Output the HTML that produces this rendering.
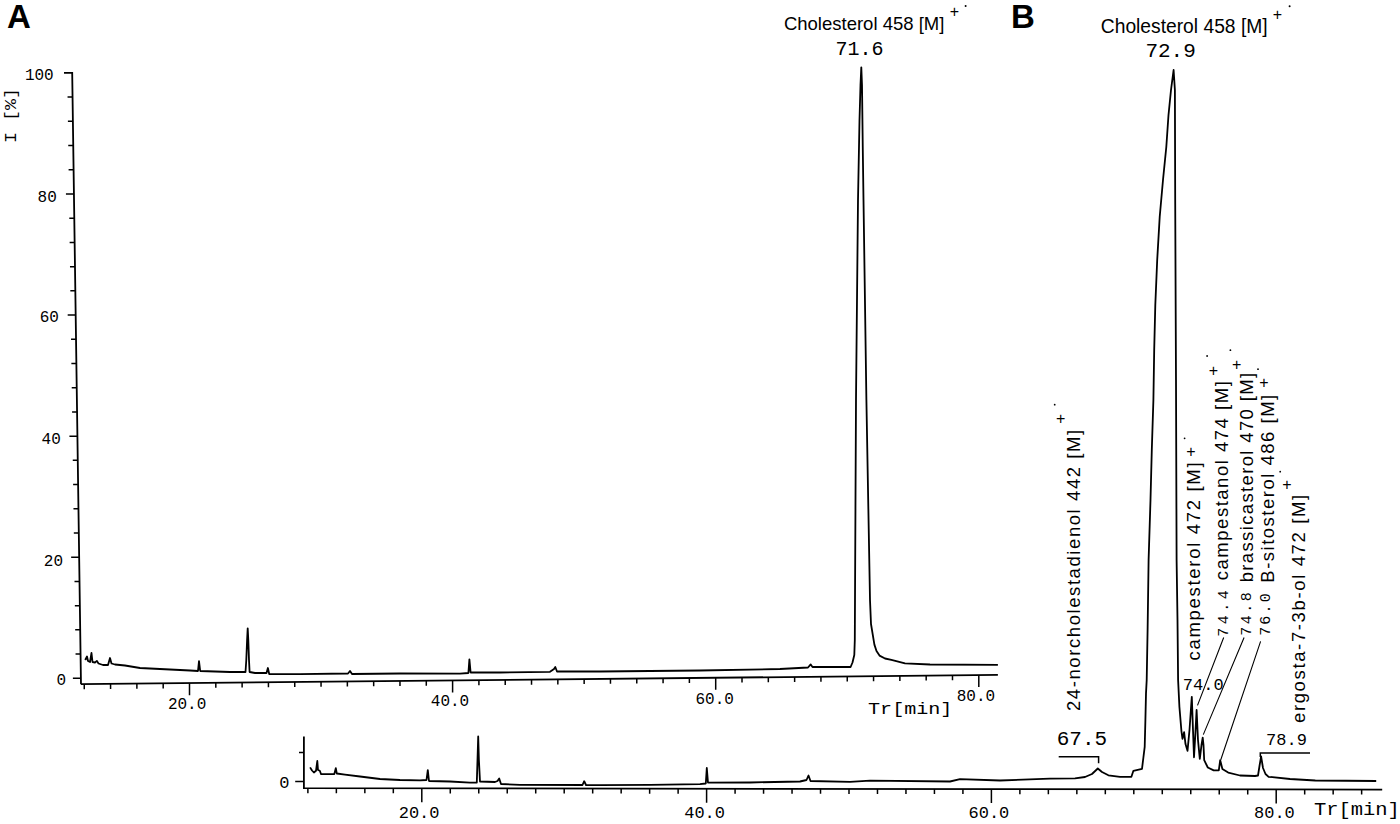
<!DOCTYPE html>
<html><head><meta charset="utf-8"><style>
html,body{margin:0;padding:0;background:#fff;}
svg{display:block;}
text{fill:#000;}
</style></head><body>
<svg width="1400" height="824" viewBox="0 0 1400 824">
<rect width="1400" height="824" fill="#fff"/>
<polyline points="64,72.9 72.2,72.9 80.98,684.2" fill="none" stroke="#000" stroke-width="1.8"/>
<line x1="80.98" y1="684.2" x2="997.9" y2="674.89" stroke="#000" stroke-width="1.8"/>
<path d="M67.55 97.12H72.55 M67.9 121.33H72.9 M68.24 145.55H73.24 M68.59 169.76H73.59 M65.94 193.98H73.94 M69.29 218.2H74.29 M69.63 242.41H74.63 M69.98 266.63H74.98 M70.33 290.84H75.33 M67.68 315.06H75.68 M71.03 339.28H76.03 M71.37 363.49H76.37 M71.72 387.71H76.72 M72.07 411.92H77.07 M69.42 436.14H77.42 M72.76 460.36H77.76 M73.11 484.57H78.11 M73.46 508.79H78.46 M73.81 533H78.81 M71.15 557.22H79.15 M74.5 581.44H79.5 M74.85 605.65H79.85 M75.2 629.87H80.2 M75.55 654.08H80.55 M72.89 678.3H80.89 M84.26 684.21V689.21 M110.57 683.94V688.94 M136.88 683.67V688.67 M163.19 683.4V688.4 M189.5 683.13V695.13 M215.81 682.87V687.87 M242.12 682.6V687.6 M268.43 682.33V687.33 M294.74 682.06V687.06 M321.05 681.79V686.79 M347.36 681.52V686.52 M373.67 681.26V686.26 M399.98 680.99V685.99 M426.29 680.72V685.72 M452.6 680.45V692.45 M478.91 680.18V685.18 M505.22 679.91V684.91 M531.53 679.65V684.65 M557.84 679.38V684.38 M584.15 679.11V684.11 M610.46 678.84V683.84 M636.77 678.57V683.57 M663.08 678.3V683.3 M689.39 678.04V683.04 M715.7 677.77V689.77 M742.01 677.5V682.5 M768.32 677.23V682.23 M794.63 676.96V681.96 M820.94 676.69V681.69 M847.25 676.43V681.43 M873.56 676.16V681.16 M899.87 675.89V680.89 M926.18 675.62V680.62 M952.49 675.35V680.35 M978.8 675.08V687.08" fill="none" stroke="#000" stroke-width="1.5"/>
<polyline points="303.9,736.4 303.9,788.2 1382.2,789.6" fill="none" stroke="#000" stroke-width="1.8"/>
<path d="M299 752.5H303.9 M295.2 781.4H303.9 M307.88 788.21V793.21 M336.36 788.24V793.24 M364.84 788.28V793.28 M393.32 788.32V793.32 M421.8 788.35V802.35 M450.28 788.39V793.39 M478.76 788.43V793.43 M507.24 788.46V793.46 M535.72 788.5V793.5 M564.2 788.54V793.54 M592.68 788.58V793.58 M621.16 788.61V793.61 M649.64 788.65V793.65 M678.12 788.69V793.69 M706.6 788.72V802.72 M735.08 788.76V793.76 M763.56 788.8V793.8 M792.04 788.83V793.83 M820.52 788.87V793.87 M849 788.91V793.91 M877.48 788.95V793.95 M905.96 788.98V793.98 M934.44 789.02V794.02 M962.92 789.06V794.06 M991.4 789.09V803.09 M1019.88 789.13V794.13 M1048.36 789.17V794.17 M1076.84 789.2V794.2 M1105.32 789.24V794.24 M1133.8 789.28V794.28 M1162.28 789.32V794.32 M1190.76 789.35V794.35 M1219.24 789.39V794.39 M1247.72 789.43V794.43 M1276.2 789.46V803.46 M1304.68 789.5V794.5 M1333.16 789.54V794.54 M1361.64 789.57V794.57" fill="none" stroke="#000" stroke-width="1.5"/>
<polyline points="85.2,660 87,656.5 88,661 90,662 91.5,653 92.5,662 95,662.5 96.9,660.9 98.5,663.5 100,664 103,665 108,665 110,658 111.5,663.5 115,664.5 125,665.5 140,668 160,669 190,670.5 198,671 199,661.2 200.2,671 230,672 245.5,672 246.3,660 247.1,640 247.7,628.4 248.3,640 249,660 249.6,672 255,673 266.5,673 267.9,668 269.2,674 300,674.2 348,673.5 350,671 352,674 400,673.5 460,673.6 468.4,673 469.4,659.3 470.6,672.5 500,672.5 550,671.8 554,669 555.3,667 557,671.5 600,671.5 700,670.5 780,669 808,667.5 810.7,664.4 812.5,667 845,667 850.6,667 852.5,662.5 854.3,655 854.8,640 855,600 856,400 858,200 859.5,120 860.5,85 861.3,67.3 862,85 862.8,150 863.5,200 866.4,400 870,600 871,624 874.4,644.6 876.5,651 879.5,655.6 885,658.5 891.4,659.9 905,663.3 930,664.5 997.9,664.9" fill="none" stroke="#000" stroke-width="1.8" stroke-linejoin="round"/>
<polyline points="310.1,767.4 312,770.5 313.9,772.5 316,770.8 317.3,761 318,770 319.8,770.8 321.1,774.2 325,774.2 334.3,774 335.8,768.2 336.8,773.5 345,774.6 360,776.5 380,779 400,780 420,780.3 426.5,780 427.8,770.2 429,781 450,781.5 470,782.7 476.8,782.5 477.5,760 478.2,736.5 478.9,760 480,781.5 495,782 497.5,781 499.2,778.5 501,784 520,784.8 582.5,785 584.2,781.2 586,785 600,785.2 650,784.8 700,784.2 705.8,783.5 706.8,768 708,782.7 750,782.5 800,781.5 806.5,780 808.5,775.5 810.5,781 850,781.8 870,780.7 950,781.5 960,779.2 1000,780.5 1050,778.6 1075,778.3 1085,777 1092,774 1097.8,768.5 1102,772 1108.4,775.3 1120,776.8 1131.4,776.8 1133.4,770.8 1142,768.8 1143.4,757.5 1144.7,746.8 1145.4,720 1146,693.4 1146.7,680 1147.6,630 1148.6,560 1150.5,500 1151.8,450 1153.4,400 1154.2,350 1155.3,305 1157.2,260 1159.7,217 1163,180 1166.3,147 1168.5,115 1171,90 1173.6,70 1174.9,90 1175.2,200 1176,380 1176.6,560 1177.5,620 1178.1,680 1179.4,706.7 1181.4,730.8 1182.5,738.8 1184.1,732.1 1185.5,744.1 1187.5,750.8 1189.5,730 1191.8,696.9 1193,730 1194,757.3 1195.3,735 1196.6,710 1198,740 1199.8,758.8 1201.5,745 1202.7,737.7 1203.5,745 1204.2,760.2 1207.8,767.5 1213.7,770.4 1218.8,770.4 1220.2,760.2 1222.4,769 1228.2,772.6 1240,775.5 1255,776 1258,775.5 1259.5,766 1261.1,756.4 1263,768 1265.5,774 1268.6,776.8 1290,779 1315.3,780.5 1376.2,781" fill="none" stroke="#000" stroke-width="1.8" stroke-linejoin="round"/>
<polyline points="1058.7,756.8 1098.6,756.8 1098.6,763.2" fill="none" stroke="#000" stroke-width="1.5"/>
<polyline points="1260.3,757 1260.3,753 1310,753" fill="none" stroke="#000" stroke-width="1.5"/>
<path d="M1223.7 637.5L1197.5 705.4M1244.1 637.5L1203.3 734.6M1260.6 641.4L1220.8 759.8" fill="none" stroke="#000" stroke-width="1.1"/>
<text x="7" y="27.7" font-family="Liberation Sans" font-weight="bold" font-size="33">A</text>
<text x="1011" y="27.6" font-family="Liberation Sans" font-weight="bold" font-size="33">B</text>
<text x="53.7" y="80" font-family="Liberation Mono" font-size="16" text-anchor="end">100</text>
<text x="56.8" y="201.6" font-family="Liberation Mono" font-size="16" text-anchor="end">80</text>
<text x="58.9" y="322.2" font-family="Liberation Mono" font-size="16" text-anchor="end">60</text>
<text x="60.8" y="443.7" font-family="Liberation Mono" font-size="16" text-anchor="end">40</text>
<text x="63" y="566" font-family="Liberation Mono" font-size="16" text-anchor="end">20</text>
<text x="66" y="684.6" font-family="Liberation Mono" font-size="16" text-anchor="end">0</text>
<text transform="translate(16,143) rotate(-90)" font-family="Liberation Mono" font-size="16" textLength="55" lengthAdjust="spacingAndGlyphs">I [%]</text>
<text x="167.9" y="708.8" font-family="Liberation Mono" font-size="16">20.0</text>
<text x="430.8" y="706.1" font-family="Liberation Mono" font-size="16">40.0</text>
<text x="695.5" y="703.9" font-family="Liberation Mono" font-size="16">60.0</text>
<text x="956.7" y="700.7" font-family="Liberation Mono" font-size="16">80.0</text>
<text x="868.05" y="714.2" font-family="Liberation Mono" font-size="16" textLength="84.3" lengthAdjust="spacingAndGlyphs">Tr[min]</text>
<text x="279.2" y="788.2" font-family="Liberation Mono" font-size="17">0</text>
<text x="398.7" y="817.5" font-family="Liberation Mono" font-size="17">20.0</text>
<text x="684.2" y="817.8" font-family="Liberation Mono" font-size="17">40.0</text>
<text x="968.5" y="818.2" font-family="Liberation Mono" font-size="17">60.0</text>
<text x="1254" y="818.2" font-family="Liberation Mono" font-size="17">80.0</text>
<text x="1314" y="814.8" font-family="Liberation Mono" font-size="17.5" textLength="85.9" lengthAdjust="spacingAndGlyphs">Tr[min]</text>
<text x="783.9" y="29.9" font-family="Liberation Sans" font-size="18.5" textLength="160.5" lengthAdjust="spacingAndGlyphs">Cholesterol 458 [M]</text>
<text x="954.3" y="11.8" font-family="Liberation Sans" font-size="16" text-anchor="middle" dominant-baseline="central">+</text>
<circle cx="965.6" cy="6" r="1" fill="#000"/>
<text x="835.6" y="55.3" font-family="Liberation Mono" font-size="20">71.6</text>
<text x="1100.8" y="33" font-family="Liberation Sans" font-size="20" textLength="166.8" lengthAdjust="spacingAndGlyphs">Cholesterol 458 [M]</text>
<text x="1277.3" y="14.5" font-family="Liberation Sans" font-size="16" text-anchor="middle" dominant-baseline="central">+</text>
<circle cx="1289.6" cy="6.3" r="1" fill="#000"/>
<text x="1145.4" y="57.4" font-family="Liberation Mono" font-size="21">72.9</text>
<text x="1056.7" y="745.2" font-family="Liberation Mono" font-size="21">67.5</text>
<text x="1182.8" y="690.4" font-family="Liberation Mono" font-size="17">74.0</text>
<text x="1266.1" y="745.2" font-family="Liberation Mono" font-size="17">78.9</text>
<text transform="translate(1080,711) rotate(-90)" font-family="Liberation Sans" font-size="18.5" textLength="281.2" lengthAdjust="spacing">24-norcholestadienol 442 [M]</text>
<text x="1060.7" y="418.7" font-family="Liberation Sans" font-size="16" text-anchor="middle" dominant-baseline="central">+</text>
<circle cx="1054.7" cy="404.7" r="0.9" fill="#000"/>
<text transform="translate(1200.3,660.4) rotate(-90)" font-family="Liberation Sans" font-size="18.5" textLength="198" lengthAdjust="spacing">campesterol 472 [M]</text>
<text x="1190.9" y="451.4" font-family="Liberation Sans" font-size="16" text-anchor="middle" dominant-baseline="central">+</text>
<circle cx="1184.6" cy="438.3" r="0.9" fill="#000"/>
<text transform="translate(1228.2,580.2) rotate(-90)" font-family="Liberation Sans" font-size="18.5" textLength="199" lengthAdjust="spacing">campestanol 474 [M]</text>
<text x="1213.4" y="370.1" font-family="Liberation Sans" font-size="16" text-anchor="middle" dominant-baseline="central">+</text>
<circle cx="1207.1" cy="356" r="0.9" fill="#000"/>
<text transform="translate(1252.7,582.3) rotate(-90)" font-family="Liberation Sans" font-size="18.5" textLength="209.4" lengthAdjust="spacing">brassicasterol 470 [M]</text>
<text x="1236.7" y="364.3" font-family="Liberation Sans" font-size="16" text-anchor="middle" dominant-baseline="central">+</text>
<circle cx="1230.4" cy="350.2" r="0.9" fill="#000"/>
<text transform="translate(1274,582.7) rotate(-90)" font-family="Liberation Sans" font-size="18.5" textLength="187.9" lengthAdjust="spacing">B-sitosterol 486 [M]</text>
<text x="1263.8" y="382.8" font-family="Liberation Sans" font-size="16" text-anchor="middle" dominant-baseline="central">+</text>
<circle cx="1258" cy="369.2" r="0.9" fill="#000"/>
<text transform="translate(1305.2,723) rotate(-90)" font-family="Liberation Sans" font-size="18.5" textLength="228.2" lengthAdjust="spacing">ergosta-7-3b-ol 472 [M]</text>
<text x="1287" y="484.3" font-family="Liberation Sans" font-size="16" text-anchor="middle" dominant-baseline="central">+</text>
<circle cx="1280.2" cy="471.7" r="0.9" fill="#000"/>
<text transform="translate(1228.3,636.7) rotate(-90)" font-family="Liberation Mono" font-size="15" textLength="46.4" lengthAdjust="spacing">74.4</text>
<text transform="translate(1250.5,635.8) rotate(-90)" font-family="Liberation Mono" font-size="15" textLength="43.5" lengthAdjust="spacing">74.8</text>
<text transform="translate(1270.3,635.8) rotate(-90)" font-family="Liberation Mono" font-size="15" textLength="42.5" lengthAdjust="spacing">76.0</text>
</svg>
</body></html>
